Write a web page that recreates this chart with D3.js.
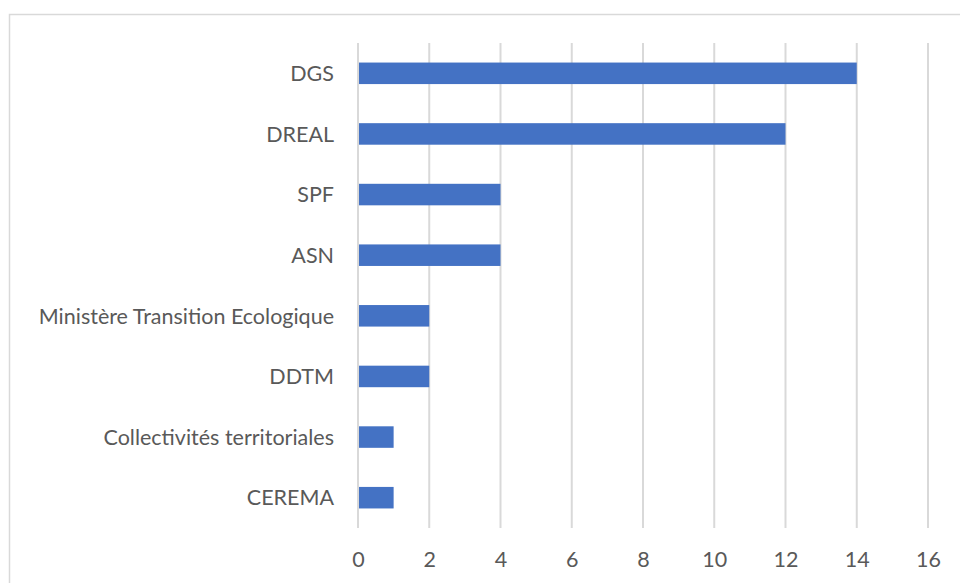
<!DOCTYPE html>
<html>
<head>
<meta charset="utf-8">
<script src="https://cdn.jsdelivr.net/npm/d3@7"></script>
<style>
  html, body { margin: 0; padding: 0; background: #fff; }
  svg { display: block; }
  text { font-family: Lato, "Open Sans", sans-serif; fill: #595959; }
</style>
</head>
<body>
<svg id="chart" width="960" height="583"></svg>
<script>
const categories = ["DGS", "DREAL", "SPF", "ASN", "Ministère Transition Ecologique", "DDTM", "Collectivités territoriales", "CEREMA"];
const values = [14, 12, 4, 4, 2, 2, 1, 1];
const tickValues = [0, 2, 4, 6, 8, 10, 12, 14, 16];

const svg = d3.select("#chart");

// chart area border
svg.append("rect")
  .attr("x", 9.5).attr("y", 14.5)
  .attr("width", 1000).attr("height", 1000)
  .attr("fill", "none").attr("stroke", "#d9d9d9").attr("stroke-width", 1.5);

const x = d3.scaleLinear().domain([0, 16]).range([358, 928]);
const y = d3.scaleBand().domain(categories).range([43, 528]).paddingInner(0.645).paddingOuter(0.3225);

// gridlines
svg.append("g").selectAll("line").data(tickValues).join("line")
  .attr("x1", d => x(d)).attr("x2", d => x(d))
  .attr("y1", 43).attr("y2", 528)
  .attr("stroke", "#d9d9d9").attr("stroke-width", 2);

// bars
svg.append("g").selectAll("rect").data(values).join("rect")
  .attr("x", x(0) + 1)
  .attr("y", (d, i) => y(categories[i]))
  .attr("width", d => x(d) - x(0) - 1)
  .attr("height", y.bandwidth())
  .attr("fill", "#4472c4");

// category labels
svg.append("g").selectAll("text").data(categories).join("text")
  .attr("x", 334)
  .attr("y", d => y(d) + y.bandwidth() / 2)
  .attr("dy", "0.36em")
  .attr("text-anchor", "end")
  .attr("font-size", 21.5)
  .text(d => d);

// x tick labels
const xAxis = d3.axisBottom(x).tickValues(tickValues).tickSize(0).tickPadding(0);
const gx = svg.append("g").attr("transform", "translate(0,0)").call(xAxis);
gx.select(".domain").remove();
gx.selectAll("text")
  .attr("y", 566.5)
  .attr("dy", null)
  .attr("font-size", 21.5)
  .attr("font-family", "Lato, 'Open Sans', sans-serif")
  .attr("fill", "#595959");
</script>
</body>
</html>
